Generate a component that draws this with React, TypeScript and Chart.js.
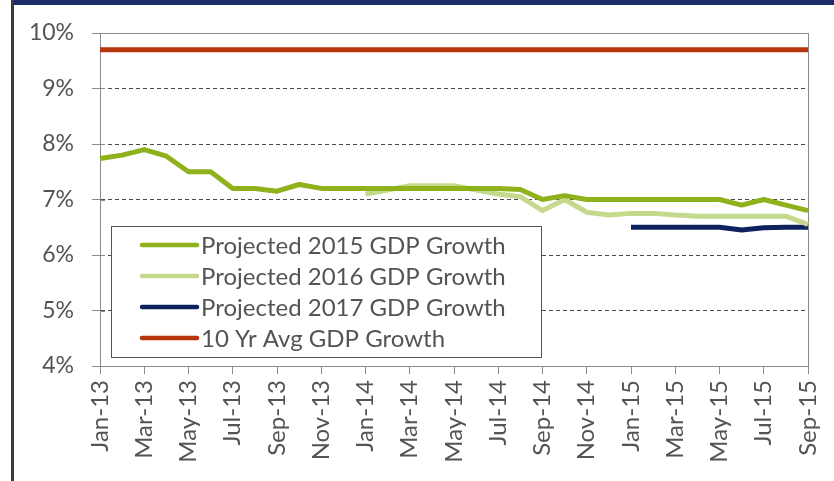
import React, { useEffect, useRef } from "react";
import { Chart, registerables } from "chart.js";

Chart.register(...registerables);

const months: string[] = [
  "Jan-13", "Feb-13", "Mar-13", "Apr-13", "May-13", "Jun-13", "Jul-13", "Aug-13", "Sep-13", "Oct-13", "Nov-13", "Dec-13",
  "Jan-14", "Feb-14", "Mar-14", "Apr-14", "May-14", "Jun-14", "Jul-14", "Aug-14", "Sep-14", "Oct-14", "Nov-14", "Dec-14",
  "Jan-15", "Feb-15", "Mar-15", "Apr-15", "May-15", "Jun-15", "Jul-15", "Aug-15", "Sep-15",
];

const growth2015: (number | null)[] = [
  7.74, 7.8, 7.9, 7.78, 7.5, 7.5, 7.2, 7.2, 7.15, 7.27, 7.2, 7.2,
  7.2, 7.2, 7.2, 7.2, 7.2, 7.2, 7.2, 7.18, 7.0, 7.07, 7.0, 7.0,
  7.0, 7.0, 7.0, 7.0, 7.0, 6.9, 7.0, 6.9, 6.8,
];

const growth2016: (number | null)[] = [
  null, null, null, null, null, null, null, null, null, null, null, null,
  7.1, 7.17, 7.25, 7.25, 7.25, 7.17, 7.1, 7.05, 6.8, 7.0, 6.77, 6.72,
  6.75, 6.75, 6.72, 6.7, 6.7, 6.7, 6.7, 6.7, 6.55,
];

const growth2017: (number | null)[] = [
  null, null, null, null, null, null, null, null, null, null, null, null,
  null, null, null, null, null, null, null, null, null, null, null, null,
  6.5, 6.5, 6.5, 6.5, 6.5, 6.45, 6.49, 6.5, 6.5,
];

const avg10yr: number[] = months.map(() => 9.7);

const seriesLabels = [
  "Projected 2015 GDP Growth",
  "Projected 2016 GDP Growth",
  "Projected 2017 GDP Growth",
  "10 Yr Avg GDP Growth",
];

const seriesColors = ["#8fb11c", "#c5d98c", "#0f205e", "#b5350f"];

const FONT = "Lato, 'Open Sans', sans-serif";
const TEXT = "#545454";

const frameBorder = {
  id: "frameBorder",
  beforeDatasetsDraw(chart: any) {
    const { ctx, chartArea: ca } = chart;
    ctx.save();
    ctx.strokeStyle = "#8a8a8a";
    ctx.lineWidth = 1;
    ctx.strokeRect(ca.left + 0.5, ca.top + 0.5, ca.right - ca.left, ca.bottom - ca.top);
    // inner half of the crossing y tick marks
    const y = chart.scales.y;
    y.ticks.forEach((t: any) => {
      const py = Math.round(y.getPixelForValue(t.value)) + 0.5;
      ctx.beginPath();
      ctx.moveTo(ca.left, py);
      ctx.lineTo(ca.left + 5, py);
      ctx.stroke();
    });
    ctx.restore();
  },
};

const insideLegend = {
  id: "insideLegend",
  afterDatasetsDraw(chart: any) {
    const { ctx, chartArea: ca } = chart;
    const x0 = ca.left + 11;
    const h = 131;
    const y0 = ca.bottom - 9 - h;
    const w = 430;
    ctx.save();
    ctx.fillStyle = "#ffffff";
    ctx.fillRect(x0, y0, w, h);
    ctx.strokeStyle = "#555555";
    ctx.lineWidth = 1;
    ctx.strokeRect(x0 + 0.5, y0 + 0.5, w, h);
    ctx.font = `24px ${FONT}`;
    ctx.textBaseline = "middle";
    ctx.textAlign = "left";
    chart.data.datasets.forEach((ds: any, i: number) => {
      const cy = y0 + 19 + i * 31;
      ctx.strokeStyle = ds.borderColor;
      ctx.lineWidth = 4.5;
      ctx.lineCap = "round";
      ctx.beginPath();
      ctx.moveTo(x0 + 31, cy);
      ctx.lineTo(x0 + 86, cy);
      ctx.stroke();
      ctx.fillStyle = TEXT;
      ctx.fillText(ds.label, x0 + 90, cy + 1);
    });
    ctx.restore();
  },
};

export default function App() {
  const canvasRef = useRef<HTMLCanvasElement | null>(null);

  useEffect(() => {
    const canvas = canvasRef.current;
    if (!canvas) return;
    const datasets = [growth2015, growth2016, growth2017, avg10yr].map((data, i) => ({
      label: seriesLabels[i],
      data,
      borderColor: seriesColors[i],
      backgroundColor: seriesColors[i],
      borderWidth: 5,
      pointRadius: 0,
      tension: 0,
      spanGaps: false,
      borderJoinStyle: "round" as const,
    }));
    const chart = new Chart(canvas, {
      type: "line",
      data: { labels: months, datasets },
      plugins: [frameBorder, insideLegend],
      options: {
        animation: false,
        responsive: false,
        layout: { padding: { left: 0, right: 26, top: 33, bottom: 0 } },
        plugins: { legend: { display: false }, tooltip: { enabled: false } },
        scales: {
          x: {
            offset: false,
            grid: { drawOnChartArea: false, tickLength: 8, color: "#8a8a8a" },
            border: { color: "#8a8a8a", width: 1 },
            ticks: {
              autoSkip: false,
              maxRotation: 90,
              minRotation: 90,
              padding: 6,
              color: TEXT,
              font: { family: FONT, size: 24 },
              callback: (_v: any, i: number) => (i % 2 === 0 ? months[i] : null),
            },
            afterFit: (scale: any) => {
              scale.height = 115;
              scale.paddingLeft = 0;
              scale.paddingRight = 0;
            },
          },
          y: {
            min: 4,
            max: 10,
            grid: {
              color: (c: any) => (c.tick && (c.tick.value === 4 || c.tick.value === 10) ? "rgba(0,0,0,0)" : "#4a4a4a"),
              tickColor: "#8a8a8a",
              tickLength: 8,
            },
            border: { color: "#8a8a8a", width: 1, dash: [4, 3] },
            ticks: {
              stepSize: 1,
              padding: 18,
              color: TEXT,
              font: { family: FONT, size: 23 },
              callback: (v: any) => `${v}%`,
            },
            afterFit: (scale: any) => {
              scale.width = 100;
              scale.paddingTop = 0;
              scale.paddingBottom = 0;
            },
          },
        },
      },
    });
    return () => chart.destroy();
  }, []);

  return (
    <div style={{ position: "fixed", left: 0, top: 0, width: 834, height: 481, background: "#ffffff", overflow: "hidden" }}>
      <div style={{ position: "absolute", left: 12, top: 0, width: 822, height: 5, background: "#1c2d6b" }} />
      <div style={{ position: "absolute", left: 11, top: 0, width: 3, height: 481, background: "#3c3c3c" }} />
      <canvas ref={canvasRef} width={834} height={481} style={{ position: "absolute", left: 0, top: 0, display: "block" }} />
    </div>
  );
}
